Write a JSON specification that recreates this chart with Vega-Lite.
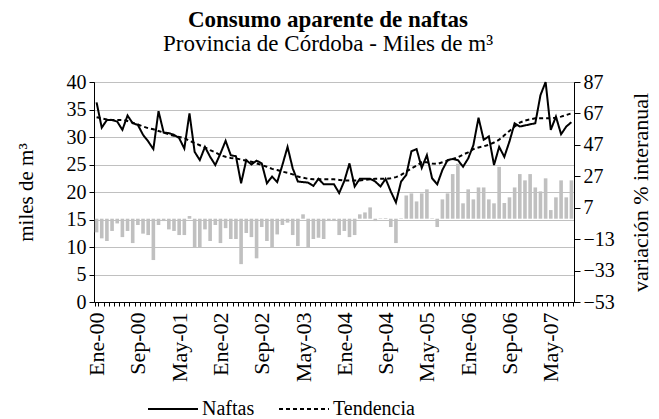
{
  "$schema": "https://vega.github.io/schema/vega-lite/v6.json",
  "width": 480,
  "height": 220,
  "autosize": "none",
  "padding": {"left": 94, "top": 82, "right": 85, "bottom": 117},
  "background": "white",
  "title": {
    "text": "Consumo aparente de naftas",
    "subtitle": "Provincia de Córdoba - Miles de m³",
    "font": "Liberation Serif",
    "fontSize": 23,
    "fontWeight": "bold",
    "color": "black",
    "subtitleFont": "Liberation Serif",
    "subtitleFontSize": 23,
    "subtitleColor": "black",
    "subtitlePadding": 1,
    "anchor": "middle",
    "frame": "group",
    "dx": -6,
    "offset": 16
  },
  "data": {
    "values": [
      {"mes": "Ene-00", "Naftas": 36.3, "Tendencia": 33.6, "variacion": -8.7},
      {"mes": "Feb-00", "Naftas": 31.7, "Tendencia": 33.4, "variacion": -12.5},
      {"mes": "Mar-00", "Naftas": 33.1, "Tendencia": 33.2, "variacion": -14.2},
      {"mes": "Abr-00", "Naftas": 33.1, "Tendencia": 33.1, "variacion": -7.8},
      {"mes": "May-00", "Naftas": 32.8, "Tendencia": 33.1, "variacion": -3.0},
      {"mes": "Jun-00", "Naftas": 31.3, "Tendencia": 33.1, "variacion": -11.7},
      {"mes": "Jul-00", "Naftas": 33.9, "Tendencia": 32.9, "variacion": -7.8},
      {"mes": "Ago-00", "Naftas": 32.5, "Tendencia": 32.6, "variacion": -15.5},
      {"mes": "Sep-00", "Naftas": 32.2, "Tendencia": 32.3, "variacion": -4.0},
      {"mes": "Oct-00", "Naftas": 30.4, "Tendencia": 31.9, "variacion": -9.5},
      {"mes": "Nov-00", "Naftas": 29.2, "Tendencia": 31.6, "variacion": -10.4},
      {"mes": "Dic-00", "Naftas": 27.8, "Tendencia": 31.4, "variacion": -26.3},
      {"mes": "Ene-01", "Naftas": 34.7, "Tendencia": 31.1, "variacion": -4.0},
      {"mes": "Feb-01", "Naftas": 30.8, "Tendencia": 30.8, "variacion": -1.5},
      {"mes": "Mar-01", "Naftas": 30.7, "Tendencia": 30.5, "variacion": -6.8},
      {"mes": "Abr-01", "Naftas": 30.4, "Tendencia": 30.2, "variacion": -7.8},
      {"mes": "May-01", "Naftas": 29.8, "Tendencia": 30.0, "variacion": -10.4},
      {"mes": "Jun-01", "Naftas": 27.9, "Tendencia": 29.8, "variacion": -10.4},
      {"mes": "Jul-01", "Naftas": 34.3, "Tendencia": 29.3, "variacion": 1.7},
      {"mes": "Ago-01", "Naftas": 27.3, "Tendencia": 28.9, "variacion": -18.5},
      {"mes": "Sep-01", "Naftas": 25.8, "Tendencia": 28.5, "variacion": -18.5},
      {"mes": "Oct-01", "Naftas": 28.2, "Tendencia": 28.1, "variacion": -6.8},
      {"mes": "Nov-01", "Naftas": 26.4, "Tendencia": 27.6, "variacion": -14.2},
      {"mes": "Dic-01", "Naftas": 24.9, "Tendencia": 27.2, "variacion": -4.0},
      {"mes": "Ene-02", "Naftas": 27.0, "Tendencia": 26.7, "variacion": -15.5},
      {"mes": "Feb-02", "Naftas": 29.3, "Tendencia": 26.4, "variacion": -6.0},
      {"mes": "Mar-02", "Naftas": 26.7, "Tendencia": 26.2, "variacion": -12.9},
      {"mes": "Abr-02", "Naftas": 26.5, "Tendencia": 26.1, "variacion": -12.9},
      {"mes": "May-02", "Naftas": 21.6, "Tendencia": 25.9, "variacion": -28.9},
      {"mes": "Jun-02", "Naftas": 25.8, "Tendencia": 25.7, "variacion": -9.1},
      {"mes": "Jul-02", "Naftas": 25.0, "Tendencia": 25.5, "variacion": -11.7},
      {"mes": "Ago-02", "Naftas": 25.7, "Tendencia": 25.2, "variacion": -25.2},
      {"mes": "Sep-02", "Naftas": 25.2, "Tendencia": 24.9, "variacion": -5.3},
      {"mes": "Oct-02", "Naftas": 21.6, "Tendencia": 24.6, "variacion": -14.2},
      {"mes": "Nov-02", "Naftas": 22.8, "Tendencia": 24.2, "variacion": -18.5},
      {"mes": "Dic-02", "Naftas": 21.8, "Tendencia": 24.0, "variacion": -10.0},
      {"mes": "Ene-03", "Naftas": 24.9, "Tendencia": 23.7, "variacion": -4.0},
      {"mes": "Feb-03", "Naftas": 28.2, "Tendencia": 23.5, "variacion": -2.5},
      {"mes": "Mar-03", "Naftas": 24.3, "Tendencia": 23.2, "variacion": -10.4},
      {"mes": "Abr-03", "Naftas": 21.9, "Tendencia": 22.8, "variacion": -17.4},
      {"mes": "May-03", "Naftas": 21.8, "Tendencia": 22.6, "variacion": 2.8},
      {"mes": "Jun-03", "Naftas": 21.7, "Tendencia": 22.4, "variacion": -18.5},
      {"mes": "Jul-03", "Naftas": 21.1, "Tendencia": 22.3, "variacion": -12.9},
      {"mes": "Ago-03", "Naftas": 22.4, "Tendencia": 22.3, "variacion": -12.1},
      {"mes": "Sep-03", "Naftas": 21.4, "Tendencia": 22.3, "variacion": -12.9},
      {"mes": "Oct-03", "Naftas": 21.4, "Tendencia": 22.3, "variacion": -1.5},
      {"mes": "Nov-03", "Naftas": 21.4, "Tendencia": 22.3, "variacion": -1.5},
      {"mes": "Dic-03", "Naftas": 19.8, "Tendencia": 22.2, "variacion": -10.4},
      {"mes": "Ene-04", "Naftas": 22.0, "Tendencia": 22.1, "variacion": -7.8},
      {"mes": "Feb-04", "Naftas": 25.2, "Tendencia": 22.1, "variacion": -11.7},
      {"mes": "Mar-04", "Naftas": 21.0, "Tendencia": 22.1, "variacion": -10.4},
      {"mes": "Abr-04", "Naftas": 22.4, "Tendencia": 22.1, "variacion": 2.8},
      {"mes": "May-04", "Naftas": 22.4, "Tendencia": 22.2, "variacion": 4.0},
      {"mes": "Jun-04", "Naftas": 22.4, "Tendencia": 22.3, "variacion": 7.2},
      {"mes": "Jul-04", "Naftas": 21.9, "Tendencia": 22.4, "variacion": -1.5},
      {"mes": "Ago-04", "Naftas": 21.0, "Tendencia": 22.4, "variacion": 0.3},
      {"mes": "Sep-04", "Naftas": 22.4, "Tendencia": 22.4, "variacion": 0.4},
      {"mes": "Oct-04", "Naftas": 20.1, "Tendencia": 22.5, "variacion": -5.3},
      {"mes": "Nov-04", "Naftas": 18.1, "Tendencia": 22.7, "variacion": -15.5},
      {"mes": "Dic-04", "Naftas": 21.9, "Tendencia": 23.1, "variacion": 0.3},
      {"mes": "Ene-05", "Naftas": 23.1, "Tendencia": 23.7, "variacion": 14.8},
      {"mes": "Feb-05", "Naftas": 27.4, "Tendencia": 24.3, "variacion": 16.1},
      {"mes": "Mar-05", "Naftas": 27.8, "Tendencia": 24.8, "variacion": 11.0},
      {"mes": "Abr-05", "Naftas": 24.4, "Tendencia": 25.4, "variacion": 16.1},
      {"mes": "May-05", "Naftas": 26.7, "Tendencia": 25.4, "variacion": 18.7},
      {"mes": "Jun-05", "Naftas": 22.5, "Tendencia": 25.2, "variacion": 0.3},
      {"mes": "Jul-05", "Naftas": 21.4, "Tendencia": 25.1, "variacion": -5.3},
      {"mes": "Ago-05", "Naftas": 24.0, "Tendencia": 25.4, "variacion": 12.3},
      {"mes": "Sep-05", "Naftas": 25.8, "Tendencia": 25.7, "variacion": 16.1},
      {"mes": "Oct-05", "Naftas": 26.0, "Tendencia": 26.0, "variacion": 28.4},
      {"mes": "Nov-05", "Naftas": 25.8, "Tendencia": 26.3, "variacion": 35.0},
      {"mes": "Dic-05", "Naftas": 24.6, "Tendencia": 26.8, "variacion": 9.8},
      {"mes": "Ene-06", "Naftas": 26.1, "Tendencia": 27.2, "variacion": 18.7},
      {"mes": "Feb-06", "Naftas": 28.5, "Tendencia": 27.8, "variacion": 12.3},
      {"mes": "Mar-06", "Naftas": 33.5, "Tendencia": 28.1, "variacion": 19.9},
      {"mes": "Abr-06", "Naftas": 29.5, "Tendencia": 28.3, "variacion": 19.9},
      {"mes": "May-06", "Naftas": 30.1, "Tendencia": 28.6, "variacion": 12.3},
      {"mes": "Jun-06", "Naftas": 24.9, "Tendencia": 29.0, "variacion": 9.8},
      {"mes": "Jul-06", "Naftas": 28.2, "Tendencia": 29.5, "variacion": 33.0},
      {"mes": "Ago-06", "Naftas": 26.4, "Tendencia": 30.3, "variacion": 10.0},
      {"mes": "Sep-06", "Naftas": 29.2, "Tendencia": 31.1, "variacion": 13.6},
      {"mes": "Oct-06", "Naftas": 32.5, "Tendencia": 31.9, "variacion": 19.9},
      {"mes": "Nov-06", "Naftas": 31.9, "Tendencia": 32.6, "variacion": 28.4},
      {"mes": "Dic-06", "Naftas": 32.1, "Tendencia": 33.0, "variacion": 24.4},
      {"mes": "Ene-07", "Naftas": 32.3, "Tendencia": 33.2, "variacion": 28.4},
      {"mes": "Feb-07", "Naftas": 32.5, "Tendencia": 33.4, "variacion": 19.9},
      {"mes": "Mar-07", "Naftas": 37.6, "Tendencia": 33.4, "variacion": 17.4},
      {"mes": "Abr-07", "Naftas": 40.0, "Tendencia": 33.4, "variacion": 25.7},
      {"mes": "May-07", "Naftas": 31.3, "Tendencia": 33.4, "variacion": 5.5},
      {"mes": "Jun-07", "Naftas": 33.7, "Tendencia": 33.5, "variacion": 13.6},
      {"mes": "Jul-07", "Naftas": 30.5, "Tendencia": 33.7, "variacion": 24.4},
      {"mes": "Ago-07", "Naftas": 31.9, "Tendencia": 34.0, "variacion": 13.6},
      {"mes": "Sep-07", "Naftas": 32.7, "Tendencia": 34.3, "variacion": 24.4}
    ]
  },
  "encoding": {
    "x": {
      "field": "mes",
      "type": "ordinal",
      "sort": null,
      "scale": {"paddingInner": 0.3, "paddingOuter": 0.15},
      "axis": {
        "title": null,
        "labelExpr": "indexof(['Ene-00','Sep-00','May-01','Ene-02','Sep-02','May-03','Ene-04','Sep-04','May-05','Ene-06','Sep-06','May-07'], datum.value) >= 0 ? datum.value : ''",
        "labelAngle": -90,
        "labelFont": "Liberation Serif",
        "labelFontSize": 22,
        "labelColor": "black",
        "labelOverlap": false,
        "labelBound": false,
        "labelPadding": 6,
        "tickBand": "extent",
        "tickSize": 4,
        "tickColor": "black",
        "domainColor": "black",
        "grid": false
      }
    }
  },
  "layer": [
    {
      "mark": {"type": "bar", "color": "#c0c0c0"},
      "encoding": {
        "y": {
          "field": "variacion",
          "type": "quantitative",
          "scale": {"domain": [-53, 87], "nice": false},
          "axis": {
            "orient": "right",
            "values": [-53, -33, -13, 7, 27, 47, 67, 87],
            "title": "variación % interanual",
            "titleAngle": -90,
            "titleFont": "Liberation Serif",
            "titleFontWeight": "normal",
            "titleFontSize": 22,
            "titleColor": "black",
            "titlePadding": 38,
            "labelFont": "Liberation Serif",
            "labelFontSize": 20,
            "labelColor": "black",
            "tickSize": 6,
            "tickColor": "black",
            "domainColor": "black",
            "labelPadding": 3,
            "grid": false
          }
        }
      }
    },
    {
      "transform": [{"fold": ["Naftas", "Tendencia"], "as": ["serie", "valor"]}],
      "mark": {"type": "line", "color": "black", "strokeWidth": 2},
      "encoding": {
        "y": {
          "field": "valor",
          "type": "quantitative",
          "scale": {"domain": [0, 40], "nice": false},
          "axis": {
            "orient": "left",
            "values": [0, 5, 10, 15, 20, 25, 30, 35, 40],
            "title": "miles de m³",
            "titleFont": "Liberation Serif",
            "titleFontWeight": "normal",
            "titleFontSize": 21,
            "titleColor": "black",
            "titlePadding": 30,
            "labelFont": "Liberation Serif",
            "labelFontSize": 20,
            "labelColor": "black",
            "tickSize": 5,
            "tickColor": "black",
            "domainColor": "black",
            "labelPadding": 3,
            "grid": true,
            "gridColor": "#c0c0c0"
          }
        },
        "strokeDash": {
          "field": "serie",
          "type": "nominal",
          "scale": {"domain": ["Naftas", "Tendencia"], "range": [[1, 0], [4, 3]]},
          "legend": {
            "orient": "none",
            "legendX": 53,
            "legendY": 301,
            "direction": "horizontal",
            "title": null,
            "symbolType": "stroke",
            "symbolSize": 2500,
            "symbolStrokeWidth": 2,
            "symbolStrokeColor": "black",
            "labelFont": "Liberation Serif",
            "labelFontSize": 20,
            "labelColor": "black",
            "columnPadding": 20,
            "labelOffset": 3
          }
        }
      }
    }
  ],
  "resolve": {"scale": {"y": "independent"}},
  "config": {
    "font": "Liberation Serif",
    "view": {"stroke": "black", "strokeWidth": 1},
    "style": {
      "guide-label": {"font": "Liberation Serif", "fill": "black"},
      "guide-title": {"font": "Liberation Serif", "fill": "black"}
    },
    "legend": {"labelFont": "Liberation Serif"},
    "axis": {
      "labelFont": "Liberation Serif",
      "titleFont": "Liberation Serif"
    }
  }
}
